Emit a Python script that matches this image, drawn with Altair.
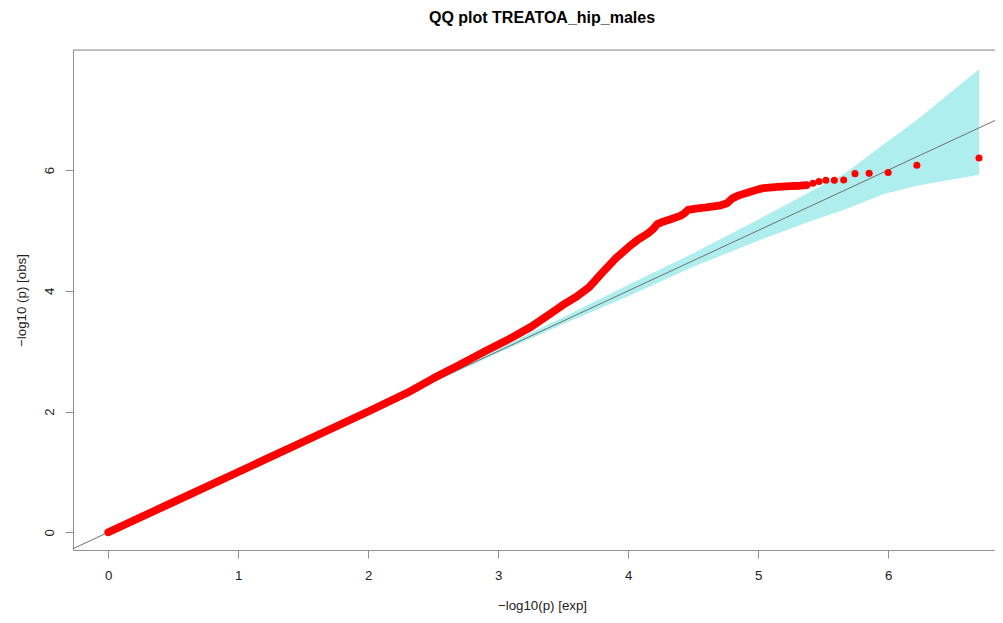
import altair as alt
import pandas as pd

# ---- data ----
# dense part of the observed curve (drawn as a thick red band of overlapping points)
line_x = [0.0, 0.5, 1.0, 1.5, 2.0, 2.3, 2.5, 2.7, 2.9, 3.1, 3.25, 3.4, 3.5, 3.6, 3.7,
          3.8, 3.9, 4.0, 4.07, 4.15, 4.19, 4.22, 4.26, 4.32, 4.40, 4.43, 4.46, 4.52,
          4.60, 4.70, 4.76, 4.80, 4.85, 4.94, 5.00, 5.04, 5.15, 5.24, 5.32, 5.37]
line_y = [0.0, 0.5, 1.0, 1.5, 2.0, 2.31, 2.55, 2.77, 3.0, 3.22, 3.40, 3.62, 3.77, 3.90, 4.06,
          4.30, 4.53, 4.72, 4.84, 4.95, 5.02, 5.10, 5.14, 5.18, 5.24, 5.28, 5.34, 5.36,
          5.38, 5.41, 5.45, 5.53, 5.58, 5.64, 5.68, 5.70, 5.72, 5.735, 5.74, 5.75]

# sparse tail points
tail_x = [5.42, 5.467, 5.52, 5.585, 5.657, 5.744, 5.853, 5.999, 6.22, 6.698]
tail_y = [5.78, 5.81, 5.83, 5.83, 5.835, 5.94, 5.945, 5.96, 6.08, 6.20]

# confidence band
band_x = [0.0, 1.0, 2.0, 3.0, 3.5, 4.0, 4.5, 5.0, 5.4, 5.657, 5.96, 6.22, 6.698]
band_hi = [0.0, 1.01, 2.02, 3.04, 3.56, 4.10, 4.62, 5.18, 5.64, 5.93, 6.42, 6.83, 7.67]
band_lo = [0.0, 0.99, 1.98, 2.97, 3.45, 3.91, 4.40, 4.83, 5.15, 5.34, 5.60, 5.74, 5.92]

# identity line y = x
diag_x = [-0.3, 7.0]

x_ticks = [0, 1, 2, 3, 4, 5, 6]
y_ticks = [0, 2, 4, 6]

title_text = ["QQ plot TREATOA_hip_males"]

FONT = "Liberation Sans"
AXIS_GRAY = "#909090"
W, H = 922, 500
CENTER = 469

xscale = alt.Scale(domain=[-0.2715, 6.821], nice=False, zero=False)
yscale = alt.Scale(domain=[-0.293, 7.988], nice=False, zero=False)

xaxis = alt.Axis(values=x_ticks, format="d", grid=False, title="\u2212log10(p) [exp]",
                 domainColor=AXIS_GRAY, tickColor=AXIS_GRAY, tickSize=8,
                 labelFont=FONT, labelFontSize=13.3, labelColor="#222", labelPadding=10,
                 titleFont=FONT, titleFontSize=13.3, titleFontWeight="normal", titleColor="#222",
                 titleX=CENTER, titleY=59, titleAlign="center", titleBaseline="alphabetic")
yaxis = alt.Axis(values=y_ticks, format="d", grid=False, title="\u2212log10 (p) [obs]",
                 domainColor=AXIS_GRAY, tickColor=AXIS_GRAY, tickSize=8,
                 labelFont=FONT, labelFontSize=13.3, labelColor="#222", labelPadding=12,
                 labelAngle=270, labelAlign="center", labelBaseline="alphabetic",
                 titleFont=FONT, titleFontSize=13.3, titleFontWeight="normal", titleColor="#222",
                 titleAngle=270, titleX=-48, titleY=H / 2, titleAlign="center",
                 titleBaseline="alphabetic")

band_df = pd.DataFrame({"x": band_x, "hi": band_hi, "lo": band_lo})
line_df = pd.DataFrame({"x": line_x, "y": line_y})
tail_df = pd.DataFrame({"x": tail_x, "y": tail_y})
diag_df = pd.DataFrame({"x": diag_x, "y": diag_x})
title_df = pd.DataFrame({"t": title_text})

band = alt.Chart(band_df).mark_area(color="#AFEEEE", opacity=1, clip=True).encode(
    x=alt.X("x:Q", scale=xscale, axis=xaxis),
    y=alt.Y("hi:Q", scale=yscale, axis=yaxis),
    y2="lo:Q",
)

diag = alt.Chart(diag_df).mark_line(color="#707070", strokeWidth=1, clip=True).encode(
    x=alt.X("x:Q", scale=xscale, axis=xaxis),
    y=alt.Y("y:Q", scale=yscale, axis=yaxis),
)

obs_line = alt.Chart(line_df).mark_line(color="#FF0000", strokeWidth=7.8, strokeCap="round",
                                        strokeJoin="round", clip=True).encode(
    x=alt.X("x:Q", scale=xscale, axis=xaxis),
    y=alt.Y("y:Q", scale=yscale, axis=yaxis),
)

obs_pts = alt.Chart(tail_df).mark_circle(color="#FF0000", size=50, opacity=1, clip=True).encode(
    x=alt.X("x:Q", scale=xscale, axis=xaxis),
    y=alt.Y("y:Q", scale=yscale, axis=yaxis),
)

top_rule = alt.Chart(pd.DataFrame({"a": [0]})).mark_rule(color=AXIS_GRAY, strokeWidth=1).encode(
    x=alt.value(0), x2=alt.value(W), y=alt.value(0)
)

title = alt.Chart(title_df).mark_text(font=FONT, fontSize=16, fontWeight="bold", color="#000",
                                      align="center", baseline="alphabetic").encode(
    text="t:N", x=alt.value(CENTER), y=alt.value(-27)
)

chart = alt.layer(band, diag, obs_line, obs_pts, top_rule, title).properties(
    width=W,
    height=H,
    padding={"left": 65, "top": 42, "right": 0, "bottom": 65},
    autosize=alt.AutoSizeParams(type="none"),
).configure_view(stroke=None).configure(background="white")

chart.save("out.html", embed_options={"renderer": "svg", "actions": False})
